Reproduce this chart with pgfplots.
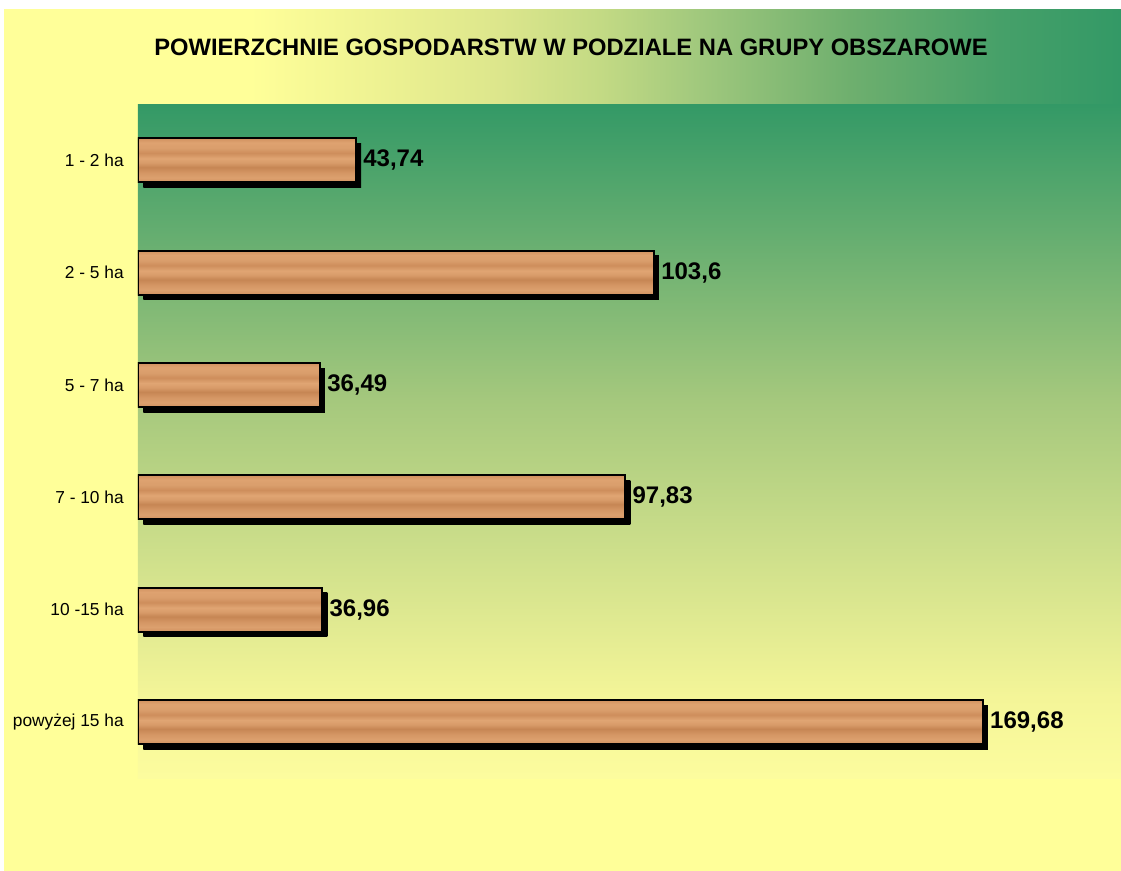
\documentclass[border=0pt]{standalone}
\usepackage{pgfplots}
\pgfplotsset{compat=1.18}
\usepackage{fontspec}
\setmainfont{Liberation Sans}

\definecolor{bgyellow}{RGB}{255,255,153}
\definecolor{bggreen}{RGB}{51,153,102}
\definecolor{pbot}{RGB}{252,252,158}
\definecolor{p1}{RGB}{244,245,152}
\definecolor{p2}{RGB}{165,200,125}
\definecolor{t0}{RGB}{235,240,145}
\definecolor{t1}{RGB}{220,230,140}
\definecolor{t2}{RGB}{195,218,132}
\definecolor{t3}{RGB}{160,200,125}
\definecolor{t4}{RGB}{110,175,110}
\definecolor{t5}{RGB}{70,160,105}
\definecolor{w1}{RGB}{210,146,96}
\definecolor{w2}{RGB}{220,160,110}
\definecolor{w3}{RGB}{212,150,100}
\definecolor{w4}{RGB}{198,134,84}
\definecolor{w5}{RGB}{216,155,105}
\definecolor{w6}{RGB}{224,165,115}
\definecolor{w7}{RGB}{206,142,92}
\definecolor{w8}{RGB}{218,158,108}
\definecolor{w9}{RGB}{222,162,112}
\definecolor{w10}{RGB}{208,145,95}

\pgfdeclareverticalshading{plotbg}{100bp}{color(0bp)=(pbot); color(25bp)=(pbot); color(31bp)=(p1); color(53bp)=(p2); color(75bp)=(bggreen); color(100bp)=(bggreen)}
\pgfdeclarehorizontalshading{topband}{100bp}{color(0bp)=(bgyellow); color(36bp)=(bgyellow); color(42.7bp)=(t0); color(47.2bp)=(t1); color(51.7bp)=(t2); color(56.2bp)=(t3); color(62.9bp)=(t4); color(69.6bp)=(t5); color(75bp)=(bggreen); color(100bp)=(bggreen)}
\pgfdeclareverticalshading{woodgrain}{100bp}{color(0bp)=(w1); color(25bp)=(w1); color(30bp)=(w2); color(36bp)=(w3); color(42bp)=(w4); color(47bp)=(w5); color(52bp)=(w6); color(58bp)=(w7); color(64bp)=(w8); color(70bp)=(w9); color(75bp)=(w10); color(100bp)=(w10)}
\pgfdeclarehorizontalshading{blackshade}{100bp}{color(0bp)=(black); color(100bp)=(black)}

\pgfplotsset{woodbar/.style={draw=black, line width=1.5pt, shade, shading=woodgrain, bar shift=0pt,
  preaction={draw=none, shading=blackshade, transform canvas={xshift=4pt, yshift=-4pt}}}}

\begin{document}
\begin{tikzpicture}
\useasboundingbox (0pt,0pt) rectangle (840.75pt,-653.25pt);
\fill[white] (0pt,0pt) rectangle (840.75pt,-653.25pt);
\fill[bgyellow] (3pt,-6.75pt) rectangle (840.75pt,-653.25pt);
\shade[shading=topband] (3pt,-6.75pt) rectangle (840.75pt,-78pt);
\node[font=\bfseries\fontsize{17.8}{20}\selectfont, inner sep=0pt] at (428.25pt,-35.25pt) {POWIERZCHNIE GOSPODARSTW W PODZIALE NA GRUPY OBSZAROWE};
\begin{axis}[
  at={(103.5pt,-583.5pt)}, anchor=south west,
  scale only axis, width=737.25pt, height=505.5pt,
  xmin=0, xmax=197.5, ymin=-0.5, ymax=5.5, y dir=reverse,
  enlargelimits=false,
  axis line style={draw=none},
  tick style={draw=none},
  major tick length=0pt,
  xtick=\empty,
  ytick={0,1,2,3,4,5},
  yticklabels={1 - 2 ha, 2 - 5 ha, 5 - 7 ha, 7 - 10 ha, 10 -15 ha, powyżej 15 ha},
  yticklabel style={font=\fontsize{13}{15}\selectfont, inner sep=0pt, xshift=-10.5pt},
  axis background/.style={shade, shading=plotbg},
  xbar, bar width=33pt,
  point meta=x,
  nodes near coords={\pgfmathprintnumber[use comma,fixed,precision=2,assume math mode=true]{\pgfplotspointmeta}},
  every node near coord/.append style={font=\bfseries\fontsize{18}{20}\selectfont, anchor=west, inner sep=2pt, xshift=3pt, text=black},
]
\addplot[woodbar] coordinates {(43.74,0)};
\addplot[woodbar] coordinates {(103.6,1)};
\addplot[woodbar] coordinates {(36.49,2)};
\addplot[woodbar] coordinates {(97.83,3)};
\addplot[woodbar] coordinates {(36.96,4)};
\addplot[woodbar] coordinates {(169.68,5)};
\end{axis}
\end{tikzpicture}
\end{document}
